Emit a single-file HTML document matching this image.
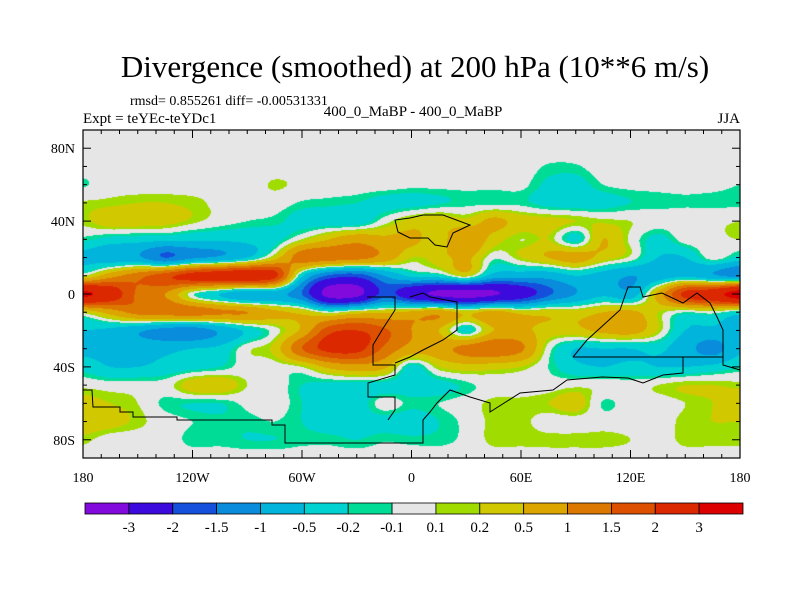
<!DOCTYPE html>
<html><head><meta charset="utf-8">
<style>
body{margin:0;background:#fff;width:800px;height:600px;overflow:hidden;position:relative;font-family:"Liberation Serif",serif;}
.t{position:absolute;white-space:nowrap;color:#000;}
#map{position:absolute;left:83px;top:130px;}
svg{position:absolute;left:0;top:0;}
</style></head><body>
<div class="t" style="left:0;width:830px;text-align:center;top:49px;font-size:31px;">Divergence (smoothed) at 200 hPa (10**6 m/s)</div>
<div class="t" style="left:130px;top:94px;font-size:14px;">rmsd= 0.855261 diff= -0.00531331</div>
<div class="t" style="left:83px;top:111px;font-size:15px;">Expt = teYEc-teYDc1</div>
<div class="t" style="left:0;width:826px;text-align:center;top:104px;font-size:15px;">400_0_MaBP - 400_0_MaBP</div>
<div class="t" style="right:60px;top:111px;font-size:15px;">JJA</div>
<canvas id="map" width="657" height="328"></canvas>
<svg id="ov" width="800" height="600"></svg>
<script>
const lats=[90,80,70,60,50,40,30,20,10,0,-10,-20,-30,-40,-50,-60,-70,-80,-90];
const lons=[-180,-165,-150,-135,-120,-105,-90,-75,-60,-45,-30,-15,0,15,30,45,60,75,90,105,120,135,150,165,180];
const row90=[0,0,0,0,0,0,0,0,0,0,0,0,0,0,0,0,0,0,0,0,0,0,0,0,0];
const row80=[0,0,0,0,0,0,0,0,0,0,0,0,0,0,0,0,0,0,0,0,0,0,0,0,0];
const row70=[0,0,0,0,0,0,0,0,0,0,0,0,0,0,0,0,0,-0.12,-0.12,0,0,0,0,0,0];
const row60=[-0.12,0,0,0,0,0,0,0.12,0.05,0,0,0,-0.05,-0.05,-0.05,-0.05,-0.05,-0.25,-0.3,-0.1,-0.05,-0.05,-0.05,-0.05,-0.1];
const row50=[0.12,0.15,0.2,0.2,0.15,0.05,0,0,-0.12,-0.15,-0.2,-0.3,-0.3,-0.22,-0.15,-0.15,-0.15,-0.3,-0.35,-0.3,-0.2,-0.15,-0.12,-0.14,-0.14];
const row40=[0.15,0.35,0.35,0.3,0.15,0,-0.1,-0.15,-0.3,-0.35,-0.4,0,0.3,0.4,0.3,0.6,0.35,0.3,0.2,0.15,0.1,0,0,0.05,0.1];
const row30=[-0.15,-0.3,-0.35,-0.4,-0.45,-0.45,-0.4,-0.3,0.1,0.5,0.8,0.6,0.6,0.35,0.9,0.35,0.1,0.2,-0.3,0.5,0.05,-0.3,0,0.05,0.1];
const row20=[-0.6,-0.8,-0.9,-1.5,-1.1,-0.9,-0.5,0.3,1.3,1.3,1.2,0.8,0.2,0.35,0.6,-0.05,0.2,0.5,0.7,0.35,0.05,-0.5,-0.5,0,-0.3];
const row10=[0.1,0.8,1.3,1.8,2.3,2.5,2.6,2.2,-0.4,-1.6,-1.8,-1.0,-0.4,-0.3,0.2,-0.7,-0.8,-0.8,-0.5,-0.7,-1.0,-0.8,-0.6,-0.9,-1.2];
const row0=[3.2,2.5,1.4,1.0,-0.05,-0.5,-0.9,-0.8,-1.5,-3.4,-3.3,-1.8,-2.6,-3.2,-3.4,-3.1,-2.5,-1.6,-1.0,-0.6,-0.8,0.6,2.2,2.6,3.5];
const rowS10=[0.2,0.7,1.2,1.3,1.3,1.1,1.0,0.6,0.4,0,0.3,0.4,0.6,0.8,0.35,0.7,0.35,0.35,0.3,0.5,0.6,0.2,-0.1,0,-0.3];
const rowS20=[-0.5,-0.6,-0.9,-1.2,-1.3,-0.9,-0.4,0,0.6,1.8,2.0,1.6,1.0,0.5,-0.3,0.5,0.6,0.35,0.4,0.6,0.7,0.2,-0.5,-0.6,-0.6];
const rowS30=[-0.6,-0.6,-0.6,-0.6,-0.5,-0.4,0.05,0.3,1.5,2.2,2.2,1.4,0.8,0.8,1.2,1.4,1.1,0,-0.5,-0.5,-0.5,-0.4,-0.8,-1.2,-0.6];
const rowS40=[-0.3,-0.5,-0.5,-0.4,-0.3,-0.2,0,0,0.1,0.6,0.8,0.6,-0.3,0.2,0.35,0.3,0.2,-0.1,-0.4,-0.5,-0.4,-0.5,-0.5,-0.4,-0.2];
const rowS50=[0.05,0,0,0,0.35,0.4,0.1,0,-0.2,-0.3,-0.3,-0.3,-0.35,-0.3,-0.15,0,0,0,0.05,0.05,0,0.1,0.2,0.2,0.15];
const rowS60=[0.3,0.2,0.1,-0.15,-0.2,-0.2,-0.05,0,-0.2,-0.35,-0.35,0,-0.15,-0.1,0,0.15,0.15,0.2,0.35,-0.12,0,0,0.1,0.2,0.35];
const rowS70=[0.35,0.3,0.15,0,-0.1,-0.15,-0.15,-0.1,-0.2,-0.3,-0.3,-0.3,-0.35,-0.2,-0.05,0.15,0.15,0,0,0,0,0,0.15,0.2,0.2];
const rowS80=[0.15,0,0,0,-0.15,-0.15,-0.2,-0.2,-0.15,-0.15,-0.2,-0.12,-0.15,-0.15,-0.05,0.15,0.15,0.15,0.15,0.15,0.1,0,0.15,0.15,0.15];
const rowS90=[0,0,0,0,0,0,0,0,0,0,0,0,0,0,0,0,0,0,0,0,0,0,0,0,0];
const divergence=[row90,row80,row70,row60,row50,row40,row30,row20,row10,row0,rowS10,rowS20,rowS30,rowS40,rowS50,rowS60,rowS70,rowS80,rowS90];
const levels=[-3,-2,-1.5,-1,-0.5,-0.2,-0.1,0.1,0.2,0.5,1,1.5,2,3];
const levelLabels=["-3","-2","-1.5","-1","-0.5","-0.2","-0.1","0.1","0.2","0.5","1","1.5","2","3"];
const colors=['#820adc','#3c0adc','#1450dc','#0a8cdc','#00b4dc','#00d2d2','#00dc96','#e6e6e6','#a0dc00','#d2c800','#dca500','#dc7800','#dc5000','#dc2800','#dc0000'];
const yTickLats=[80,40,0,-40,-80];
const yTickLabels=["80N","40N","0","40S","80S"];
const xTickLons=[-180,-120,-60,0,60,120,180];
const xTickLabels=["180","120W","60W","0","60E","120E","180"];

const PX=83,PY=130,PW=657,PH=328;
const xOf=lon=>PX+(lon+180)/360*PW;
const yOf=lat=>PY+(90-lat)/180*PH;
function levelIndex(v){let k=0;while(k<levels.length&&v>=levels[k])k++;return k;}
function cr(p0,p1,p2,p3,t){return 0.5*(2*p1+(-p0+p2)*t+(2*p0-5*p1+4*p2-p3)*t*t+(-p0+3*p1-3*p2+p3)*t*t*t);}
function gv(r,c){r=Math.max(0,Math.min(lats.length-1,r));c=Math.max(0,Math.min(lons.length-1,c));return divergence[r][c];}
function sample(lon,lat){
  const dl=lons[1]-lons[0],dt=lats[0]-lats[1];
  const fx=(lon-lons[0])/dl,fy=(lats[0]-lat)/dt;
  const c=Math.floor(fx),r=Math.floor(fy),tx=fx-c,ty=fy-r;
  const rowv=[];
  for(let k=-1;k<3;k++)rowv.push(cr(gv(r+k,c-1),gv(r+k,c),gv(r+k,c+1),gv(r+k,c+2),tx));
  return cr(rowv[0],rowv[1],rowv[2],rowv[3],ty);
}
const rgb=colors.map(h=>[parseInt(h.slice(1,3),16),parseInt(h.slice(3,5),16),parseInt(h.slice(5,7),16)]);
const cv=document.getElementById('map'),ctx=cv.getContext('2d');
const img=ctx.createImageData(PW,PH);
for(let j=0;j<PH;j++)for(let i=0;i<PW;i++){
  const lon=-180+(i+0.5)*360/PW,lat=90-(j+0.5)*180/PH;
  const col=rgb[levelIndex(sample(lon,lat))];
  const o=(j*PW+i)*4;img.data[o]=col[0];img.data[o+1]=col[1];img.data[o+2]=col[2];img.data[o+3]=255;
}
ctx.putImageData(img,0,0);

const NS='http://www.w3.org/2000/svg',svg=document.getElementById('ov');
function mk(tag,attrs){const e=document.createElementNS(NS,tag);for(const k in attrs)e.setAttribute(k,attrs[k]);svg.appendChild(e);return e;}
const coasts=[
 [[83,390],[92,390],[93,407],[120,407],[120,412],[133,412],[133,417],[177,417],[177,420],[272,420],[272,425],[285,425],[285,443],[423,443],[423,420],[430,412],[437,403],[450,390],[470,397],[490,403],[490,412],[520,393],[553,390],[567,380],[602,377],[628,378],[643,383],[663,375],[683,373],[683,357],[723,357],[723,365],[740,370]],
 [[367,297],[395,297],[395,310],[382,330],[373,345],[373,365],[395,365],[395,375],[368,383],[368,397],[395,397],[395,410],[388,420]],
 [[410,297],[423,293],[430,297],[457,302],[457,330],[443,340],[423,350],[410,357],[395,363]],
 [[410,218],[423,215],[443,215],[470,225],[453,233],[447,247],[435,245],[428,238],[410,238],[398,232],[395,220],[410,218]],
 [[573,357],[587,340],[620,310],[628,287],[640,287],[643,297],[662,293],[683,303],[697,293],[710,303],[717,317],[723,330],[723,357]],
 [[573,357],[683,357]]
];
coasts.forEach((c,i)=>{const p=mk('polyline',{points:c.map(q=>q.join(',')).join(' '),fill:'none',stroke:'#000','stroke-width':1});

});
const fr=mk('rect',{x:PX,y:PY,width:PW,height:PH,fill:'none',stroke:'#000','stroke-width':1.2});


for(let lat=-90;lat<=90;lat+=10){const y=yOf(lat);const L=(lat%40===0)?8:4;
 mk('line',{x1:PX,x2:PX+L,y1:y,y2:y,stroke:'#000'});mk('line',{x1:PX+PW,x2:PX+PW-L,y1:y,y2:y,stroke:'#000'});}
for(let lon=-180;lon<=180;lon+=10){const x=xOf(lon);const L=(lon%60===0)?8:4;
 mk('line',{x1:x,x2:x,y1:PY,y2:PY+L,stroke:'#000'});mk('line',{x1:x,x2:x,y1:PY+PH,y2:PY+PH-L,stroke:'#000'});}
yTickLats.forEach((lat,i)=>{const t=mk('text',{x:75,y:yOf(lat)+5,'text-anchor':'end','font-size':14,'font-family':'Liberation Serif, serif'});t.textContent=yTickLabels[i];

});
xTickLons.forEach((lon,i)=>{const t=mk('text',{x:xOf(lon),y:482,'text-anchor':'middle','font-size':14,'font-family':'Liberation Serif, serif'});t.textContent=xTickLabels[i];

});
const CBX=85,CBW=658,CBY=503,CBH=11,bw=CBW/colors.length;
colors.forEach((c,i)=>{const r=mk('rect',{x:CBX+i*bw,y:CBY,width:bw,height:CBH,fill:c,stroke:'#000','stroke-width':0.8});

});
levelLabels.forEach((l,i)=>{const t=mk('text',{x:CBX+(i+1)*bw,y:532,'text-anchor':'middle','font-size':15,'font-family':'Liberation Serif, serif'});t.textContent=l;

});
</script>
</body></html>
